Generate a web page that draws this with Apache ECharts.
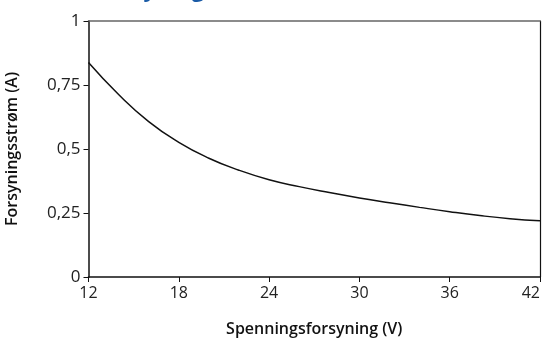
<!DOCTYPE html>
<html>
<head>
<meta charset="utf-8">
<script src="https://cdn.jsdelivr.net/npm/echarts@6/dist/echarts.min.js"></script>
<style>
html,body{margin:0;padding:0;background:#fff;}
#c{width:546px;height:346px;}
</style>
</head>
<body>
<div id="c"></div>
<script>
var titleText = "Forsyningsstrøm";
var xAxisName = "Spenningsforsyning (V)";
var yAxisName = "Forsyningsstrøm (A)";
var voltage = [12, 14, 16, 18, 20, 22, 24, 26, 28, 30, 32, 34, 36, 38, 40, 42];
var current = [0.838, 0.713, 0.607, 0.526, 0.464, 0.417, 0.380, 0.353, 0.330, 0.309, 0.290, 0.272, 0.255, 0.240, 0.228, 0.220];

var chart = echarts.init(document.getElementById('c'), null, {renderer: 'canvas'});
var font = '"Open Sans", "Noto Sans", sans-serif';
chart.setOption({
  animation: false,
  backgroundColor: '#fff',
  title: {
    text: titleText,
    left: 92,
    top: -25,
    textStyle: {fontFamily: font, fontSize: 22, fontWeight: 'bold', color: '#1a5ba6'}
  },
  grid: {left: 88.5, right: 6, top: 21, bottom: 69, containLabel: false, outerBoundsMode: 'none'},
  xAxis: [{
    type: 'value', min: 12, max: 42, interval: 6,
    name: xAxisName, nameLocation: 'middle', nameGap: 44,
    nameTextStyle: {fontFamily: font, fontSize: 16, fontWeight: 600, color: '#111'},
    axisLine: {lineStyle: {color: '#111', width: 1.5}},
    axisTick: {show: true, length: 5, lineStyle: {color: '#111', width: 1}},
    axisLabel: {fontFamily: font, fontSize: 16, color: '#222', margin: 8, alignMaxLabel: 'right'},
    splitLine: {show: false}
  }, {
    type: 'value', min: 12, max: 42, position: 'top',
    axisLine: {show: true, onZero: false, lineStyle: {color: '#666', width: 1.5}},
    axisTick: {show: false}, axisLabel: {show: false}, splitLine: {show: false}
  }],
  yAxis: [{
    type: 'value', min: 0, max: 1, interval: 0.25,
    name: yAxisName, nameLocation: 'middle', nameGap: 68, nameRotate: 90,
    nameTextStyle: {fontFamily: font, fontSize: 16, fontWeight: 600, color: '#111'},
    axisLine: {show: true, lineStyle: {color: '#111', width: 1.5}},
    axisTick: {show: true, length: 5, lineStyle: {color: '#111', width: 1}},
    axisLabel: {fontFamily: font, fontSize: 17, color: '#222', margin: 8,
      formatter: function (v) { return String(v).replace('.', ','); }},
    splitLine: {show: false}
  }, {
    type: 'value', min: 0, max: 1, position: 'right',
    axisLine: {show: true, onZero: false, lineStyle: {color: '#111', width: 1.2}},
    axisTick: {show: false}, axisLabel: {show: false}, splitLine: {show: false}
  }],
  series: [{
    type: 'line',
    data: voltage.map(function (v, i) { return [v, current[i]]; }),
    smooth: 0.5,
    showSymbol: false,
    lineStyle: {color: '#111', width: 1.5}
  }]
});
</script>
</body>
</html>
